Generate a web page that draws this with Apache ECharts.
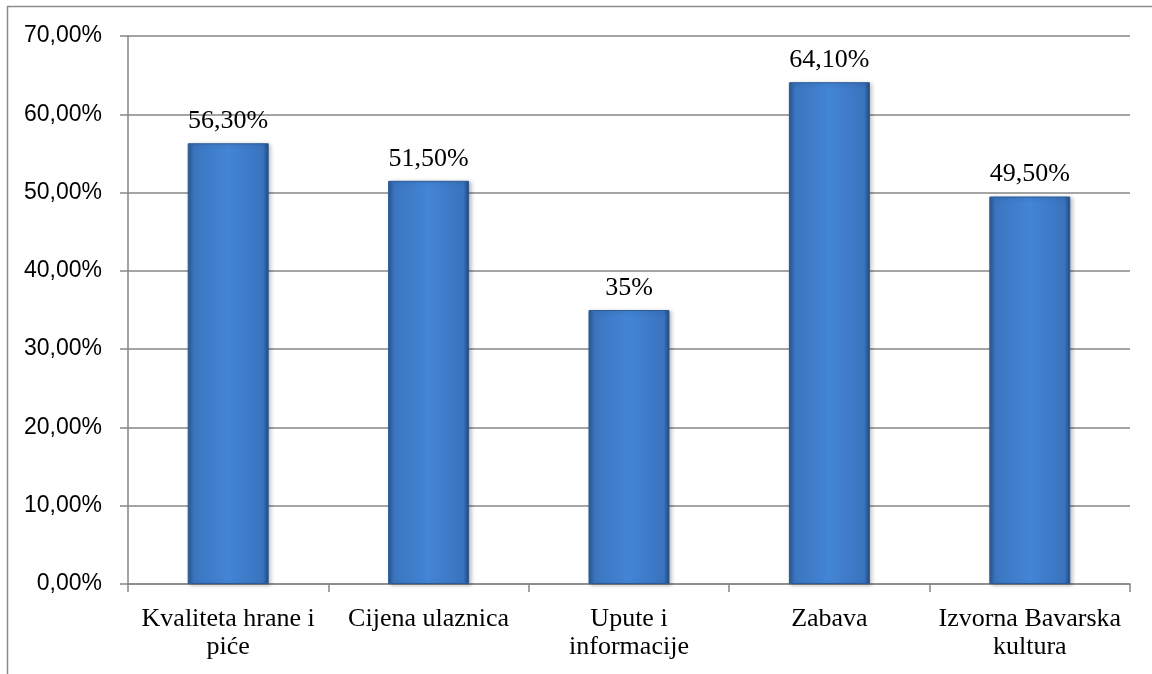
<!DOCTYPE html>
<html>
<head>
<meta charset="utf-8">
<script src="https://cdn.jsdelivr.net/npm/echarts@6/dist/echarts.min.js"></script>
<style>
  html, body { margin: 0; padding: 0; background: #fff; }
  #chart { width: 1152px; height: 674px; }
</style>
</head>
<body>
<div id="chart"></div>
<script>
// kategorije i vrijednosti (u postocima)
const categories = ['Kvaliteta hrane i\npiće', 'Cijena ulaznica', 'Upute i\ninformacije', 'Zabava', 'Izvorna Bavarska\nkultura']
const values = [56.3, 51.5, 35, 64.1, 49.5]
const valueLabels = ['56,30%', '51,50%', '35%', '64,10%', '49,50%']
const yTicks = { min: 0, max: 70, interval: 10 }

const myChart = echarts.init(document.getElementById('chart'))

// plavi stupac s tamnijim rubovima
const barColor = new echarts.graphic.LinearGradient(0, 0, 1, 0, [
  { offset: 0, color: '#2a5893' },
  { offset: 0.07, color: '#3b75bf' },
  { offset: 0.5, color: '#4385d6' },
  { offset: 0.93, color: '#3a73bd' },
  { offset: 1, color: '#21487f' }
])

const option = {
  animation: false,
  grid: { left: 128, right: 22, top: 36, bottom: 90 },
  // okvir oko grafikona
  graphic: [{
    type: 'rect',
    shape: { x: 7.5, y: 6.5, width: 1300, height: 800 },
    style: { fill: 'none', stroke: '#8c8c8c', lineWidth: 1.5 },
    silent: true
  }],
  xAxis: {
    type: 'category',
    data: categories,
    axisLine: { lineStyle: { color: '#868686', width: 1.5 } },
    axisTick: { show: true, length: 8, lineStyle: { color: '#868686', width: 1.5 } },
    axisLabel: {
      interval: 0,
      margin: 21,
      color: '#000',
      fontFamily: '"Liberation Serif", "DejaVu Serif", serif',
      fontSize: 26,
      lineHeight: 28
    }
  },
  yAxis: {
    type: 'value',
    min: yTicks.min,
    max: yTicks.max,
    interval: yTicks.interval,
    axisLine: { show: true, lineStyle: { color: '#868686', width: 1.5 } },
    axisTick: { show: true, length: 8, lineStyle: { color: '#868686', width: 1.5 } },
    splitLine: { lineStyle: { color: '#868686', width: 1.5 } },
    axisLabel: {
      margin: 26,
      color: '#000',
      fontFamily: '"Liberation Sans", Arial, sans-serif',
      fontSize: 23,
      formatter: v => v.toFixed(2).replace('.', ',') + '%'
    }
  },
  series: [{
    type: 'bar',
    data: values,
    barWidth: 81,
    itemStyle: {
      color: barColor,
      borderColor: '#2a5a98',
      borderWidth: 1,
      shadowColor: 'rgba(0,0,0,0.25)',
      shadowBlur: 4,
      shadowOffsetX: 2,
      shadowOffsetY: 1
    },
    label: {
      show: true,
      position: 'top',
      distance: 9,
      color: '#000',
      fontFamily: '"Liberation Serif", "DejaVu Serif", serif',
      fontSize: 26,
      formatter: p => valueLabels[p.dataIndex]
    }
  }]
}

myChart.setOption(option)
window.addEventListener('resize', () => myChart.resize())
</script>
</body>
</html>
